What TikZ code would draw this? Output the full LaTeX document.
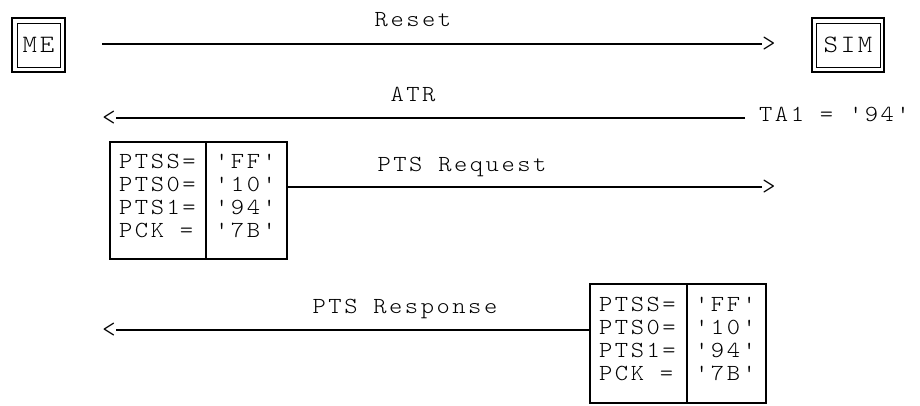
\documentclass[tikz,border=0pt]{standalone}
\usepackage{fontspec}
\newfontfamily\mono[Extension=.otf,FakeStretch=1.1,LetterSpace=11,Ligatures=TeXOff]{lmmonolt10-regular}
\newfontfamily\monoplain[Extension=.otf,Ligatures=TeXOff]{lmmonolt10-regular}
\begin{document}
\begin{tikzpicture}[x=1pt,y=-1pt,
  txt/.style={font=\mono\fontsize{23}{23}\selectfont, inner sep=0pt, anchor=base},
  head/.style={font=\monoplain\fontsize{26}{26}\selectfont, inner sep=0pt, anchor=center},
  wire/.style={line width=2pt},
  inbox/.style={draw, line width=1pt, inner sep=0pt, font=\mono\fontsize{25}{25}\selectfont},
  outbox/.style={line width=2pt},
  ptsbox/.style={draw, line width=1.5pt, inner sep=0pt, minimum width=177pt, minimum height=117pt}]
\useasboundingbox (0,0) rectangle (920,405);

% ME and SIM
\node[inbox, minimum width=43pt, minimum height=44pt] (me) at (38.5,45) {ME};
\draw[outbox] ([shift={(-4.5,-4.5)}]me.north west) rectangle ([shift={(4.5,4.5)}]me.south east);
\node[inbox, minimum width=64pt, minimum height=44pt] (sim) at (848,45) {SIM};
\draw[outbox] ([shift={(-4,-4.5)}]sim.north west) rectangle ([shift={(3.5,4.5)}]sim.south east);

% Reset
\node[txt] (resetT) at (413,26) {Reset};
\coordinate (resetS) at (102,44);
\node[head] (resetH) at (769,44) {>};
\draw[wire] (resetS) -- (resetH.west);

% ATR
\node[txt] (atrT) at (413,101) {ATR};
\node[head] (atrH) at (109,118) {<};
\node[txt, anchor=base west] (ta1) at (759,121) {TA1 = '94'};
\coordinate (atrS) at (745,118);
\draw[wire] (atrS) -- (atrH.east);

% PTS request box
\node[ptsbox] (req) at (198.5,200.5) {};
\draw[line width=1.5pt] (206,142) -- (206,259);
\foreach \yy/\ll/\rr in {168/PTSS=/'FF', 191/PTS0=/'10', 214/PTS1=/'94', 237/PCK =/'7B'}{
  \node[txt, anchor=base west] at (119,\yy) {\ll};
  \node[txt, anchor=base west] at (215,\yy) {\rr};
}
\node[txt] (reqT) at (462,171) {PTS Request};
\node[head] (reqH) at (769,187) {>};
\draw[wire] (req.east |- 0,187) -- (reqH.west);

% PTS response box
\node[ptsbox, minimum width=176pt, minimum height=119pt] (resp) at (678,343.5) {};
\draw[line width=1.5pt] (687,284) -- (687,403);
\foreach \yy/\ll/\rr in {311/PTSS=/'FF', 334/PTS0=/'10', 357/PTS1=/'94', 380/PCK =/'7B'}{
  \node[txt, anchor=base west] at (599,\yy) {\ll};
  \node[txt, anchor=base west] at (695,\yy) {\rr};
}
\node[txt] (respT) at (405,313) {PTS Response};
\node[head] (respH) at (109,330) {<};
\draw[wire] (resp.west |- 0,330) -- (respH.east);
\end{tikzpicture}
\end{document}
